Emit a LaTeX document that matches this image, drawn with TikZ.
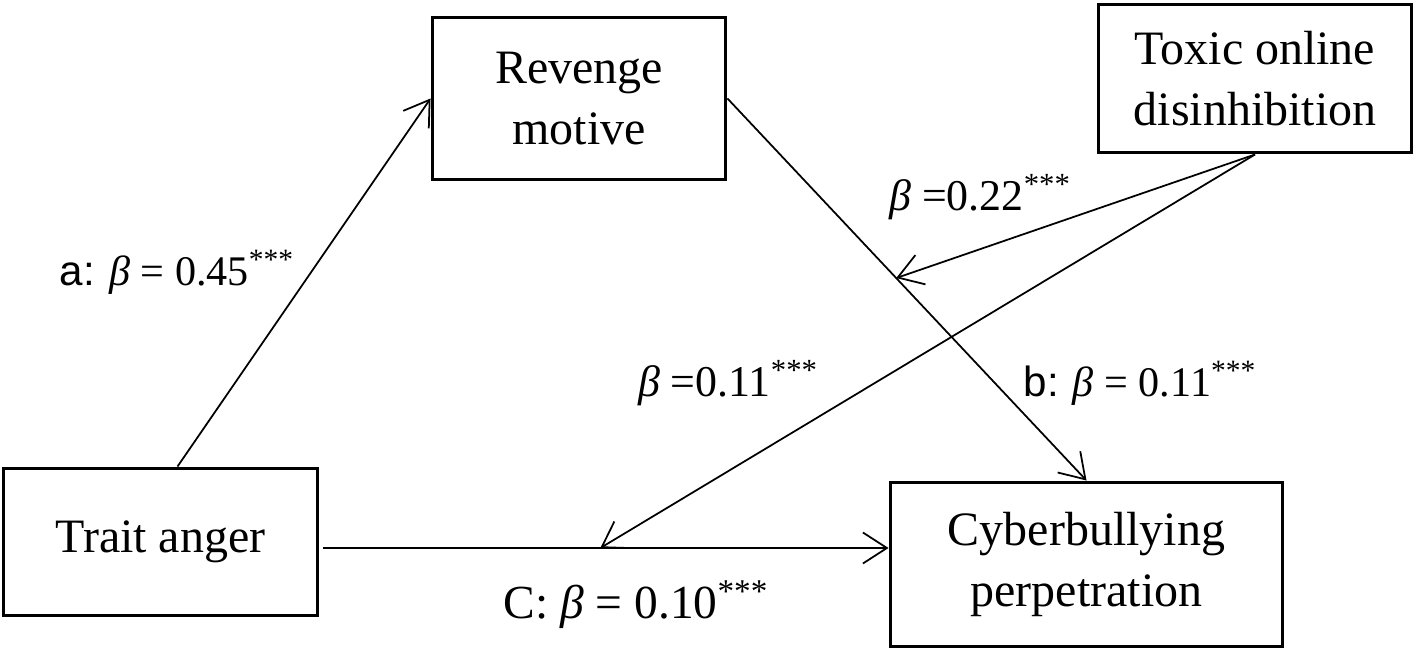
\documentclass[tikz,border=0pt]{standalone}
\usepackage{fontspec}
\setmainfont{Liberation Serif}
\newfontfamily\arialfont{Liberation Sans}
\usetikzlibrary{arrows.meta}

\tikzset{
	varbox/.style={draw, line width=1.7pt, align=center, inner sep=0pt, font=\fontsize{27.3}{34.5}\selectfont},
	effect/.style={line width=1pt, -{Straight Barb[length=0.48cm,width=0.62cm]}},
	coef/.style={inner sep=0pt, font=\fontsize{24}{28}\selectfont},
}
\newcommand{\bet}{{\itshape β}}
\newcommand{\sig}{\textsuperscript{***}}

\begin{document}
\begin{tikzpicture}[x=0.02cm,y=-0.02cm]
	\useasboundingbox (0,0) rectangle (1417,652);
	\node[varbox, minimum width=6.3cm, minimum height=2.96cm] (ta) at (160.5,542) {Trait anger};
	\node[varbox, minimum width=5.88cm, minimum height=3.26cm] (rm) at (579,98.5) {Revenge\\motive};
	\node[varbox, minimum width=6.28cm, minimum height=2.98cm] (tod) at (1255,78.5) {Toxic online\\disinhibition};
	\node[varbox, minimum width=7.86cm, minimum height=3.3cm] (cp) at (1086.5,564.5) {Cyberbullying\\perpetration};
	\draw[effect] ([xshift=0.34cm]ta.north) -- (rm.west);
	\draw[effect] (rm.east) -- coordinate[pos=0.47] (mb) (cp.north);
	\draw[effect] ([shift={(0.08cm,-0.12cm)}]ta.east) -- coordinate[pos=0.49] (mc) ([yshift=-0.12cm]ta.east -| cp.west);
	\draw[effect] (tod.south) -- (mb);
	\draw[effect] (tod.south) -- (mc);
	\node[coef] (la) at (177,272) {{\arialfont a:} \bet{} = 0.45\sig};
	\node[coef] (lb) at (1140,383) {{\arialfont b:} \bet{} = 0.11\sig};
	\node[coef, font=\fontsize{27}{30}\selectfont] (lc) at (636,605) {C: \bet{} = 0.10\sig};
	\node[coef, font=\fontsize{25}{30}\selectfont] (lm1) at (980,197) {\bet{} =0.22\sig};
	\node[coef, font=\fontsize{25}{30}\selectfont] (lm2) at (728,383) {\bet{} =0.11\sig};
\end{tikzpicture}
\end{document}
